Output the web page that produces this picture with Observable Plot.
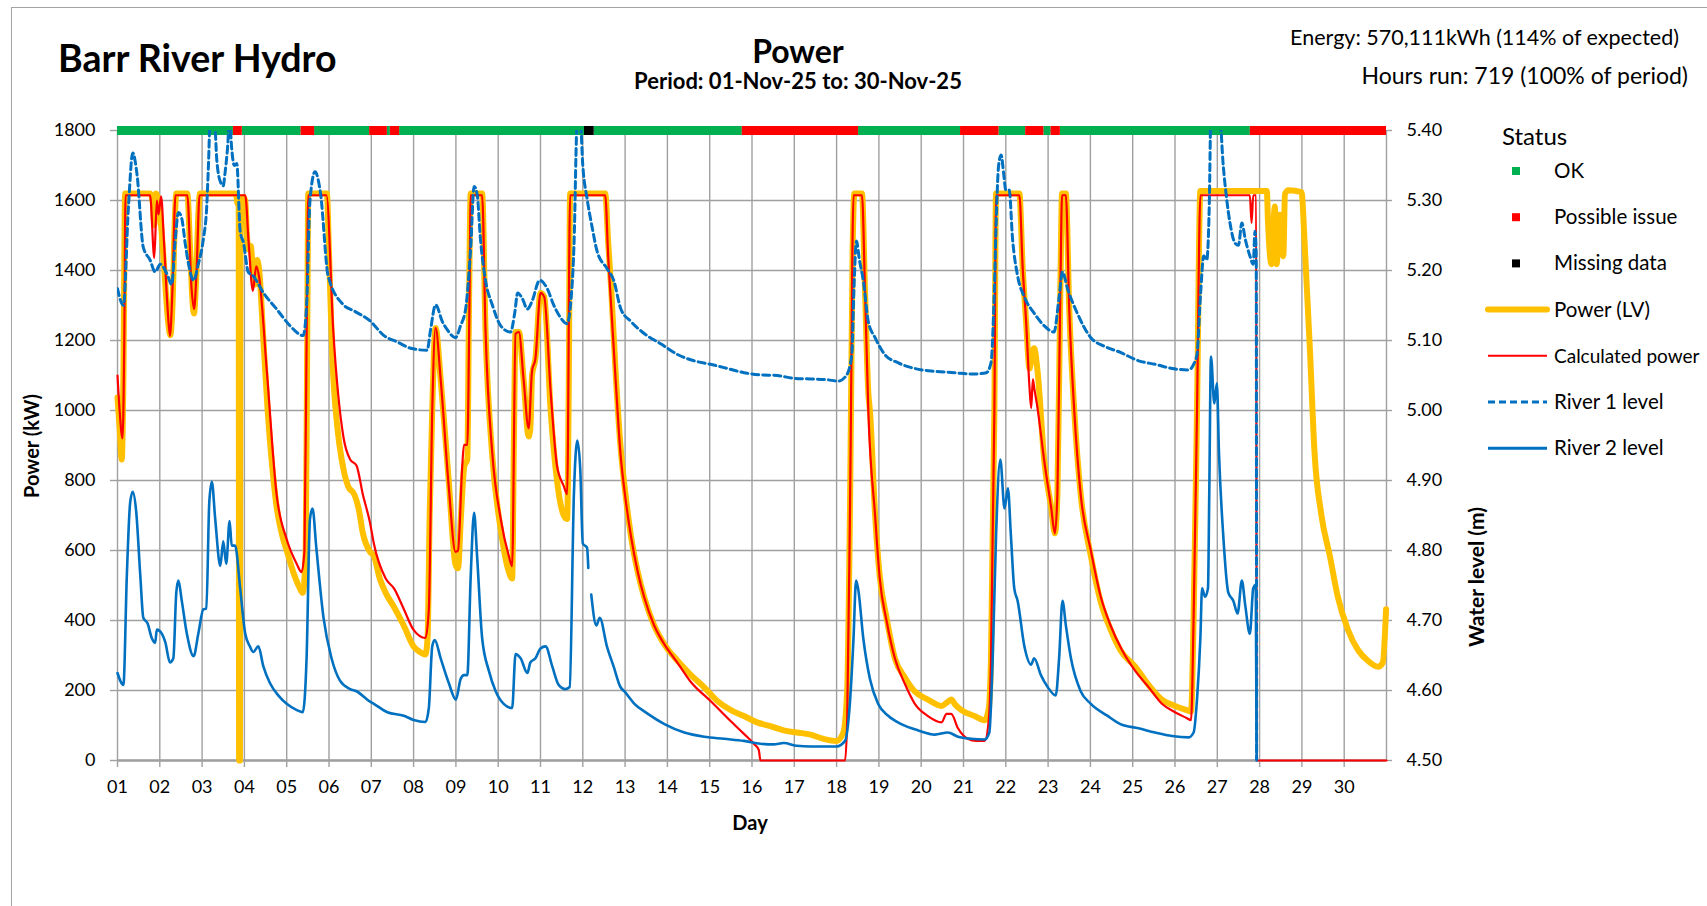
<!DOCTYPE html>
<html><head><meta charset="utf-8">
<script src="https://cdn.jsdelivr.net/npm/d3@7"></script>
<script src="https://cdn.jsdelivr.net/npm/@observablehq/plot@0.6"></script>
<style>
html,body{margin:0;padding:0;background:#fff;overflow:hidden;}
#wrap{position:relative;width:1707px;height:906px;overflow:hidden;font-family:Lato,sans-serif;}
#frame{position:absolute;left:11px;top:7px;width:1800px;height:1000px;border:1.5px solid #a3a3a3;}
#chart{position:absolute;left:0;top:0;}
#overlay{position:absolute;left:0;top:0;}
</style></head>
<body><div id="wrap"><div id="frame"></div><div id="chart"></div><svg id="overlay" width="1707" height="906"></svg></div>
<script>
// ---------- texts ----------
const titleText = "Barr River Hydro";
const chartTitle = "Power";
const periodText = "Period: 01-Nov-25 to: 30-Nov-25";
const energyText = "Energy: 570,111kWh (114% of expected)";
const hoursText = "Hours run: 719 (100% of period)";
const yLabel = "Power (kW)";
const y2Label = "Water level (m)";
const xLabel = "Day";
const legendTitle = "Status";
const legendLabels = ["OK","Possible issue","Missing data","Power (LV)","Calculated power","River 1 level","River 2 level"];

// ---------- ticks ----------
const dayLabels = ["01","02","03","04","05","06","07","08","09","10","11","12","13","14","15","16","17","18","19","20","21","22","23","24","25","26","27","28","29","30"];
const yTicks = [0,200,400,600,800,1000,1200,1400,1600,1800];
const yTickLabels = ["0","200","400","600","800","1000","1200","1400","1600","1800"];
const y2TickLabels = ["4.50","4.60","4.70","4.80","4.90","5.00","5.10","5.20","5.30","5.40"];

// ---------- status band (day offsets from 01 Nov 00:00) ----------
const statusStart = [0,2.74,2.95,4.34,4.66,5.96,6.38,6.45,6.67,11.04,11.27,14.77,17.52,19.93,20.84,21.47,21.9,22.07,22.29,26.78];
const statusEnd   = [2.74,2.95,4.34,4.66,5.96,6.38,6.45,6.67,11.04,11.27,14.77,17.52,19.93,20.84,21.47,21.9,22.07,22.29,26.78,30];
const statusType  = ["OK","Possible issue","OK","Possible issue","OK","Possible issue","OK","Possible issue","OK","Missing data","OK","Possible issue","OK","Possible issue","OK","Possible issue","OK","Possible issue","OK","Possible issue"];

// ---------- Power (LV), kW ----------
const powerDay = [0,0.05,0.1,0.14,0.18,0.77,0.83,0.87,0.91,0.97,1.05,1.12,1.2,1.25,1.3,1.36,1.39,1.65,1.72,1.78,1.81,1.85,1.92,1.95,2.8,2.84,2.865,2.875,2.895,2.905,2.97,3.02,3.06,3.1,3.15,3.2,3.25,3.3,3.35,3.45,3.55,3.65,3.76,3.9,4.0,4.15,4.3,4.38,4.45,4.49,4.51,4.95,5.0,5.08,5.2,5.3,5.45,5.6,5.7,5.8,5.97,6.06,6.2,6.34,6.54,6.77,7.0,7.15,7.28,7.33,7.38,7.44,7.52,7.64,7.83,7.99,8.05,8.12,8.2,8.27,8.31,8.35,8.62,8.7,8.86,9.06,9.25,9.33,9.37,9.41,9.49,9.6,9.72,9.76,9.8,9.88,10.0,10.09,10.24,10.39,10.55,10.63,10.67,10.7,11.53,11.6,11.67,11.78,11.89,12.0,12.14,12.3,12.45,12.69,12.96,13.24,13.55,13.87,14.18,14.5,14.81,15.12,15.44,15.75,16.06,16.38,16.69,17.0,17.16,17.25,17.32,17.38,17.42,17.6,17.67,17.75,17.79,17.91,18.02,18.18,18.38,18.61,18.85,19.16,19.48,19.6,19.71,19.8,19.95,20.26,20.5,20.6,20.65,20.73,20.77,21.32,21.4,21.48,21.56,21.62,21.67,21.75,21.91,22.07,22.16,22.22,22.29,22.33,22.42,22.5,22.62,22.77,23.01,23.24,23.48,23.71,24.06,24.38,24.69,25.0,25.28,25.38,25.44,25.52,25.6,27.17,27.2,27.28,27.36,27.4,27.48,27.56,27.6,27.68,27.99,28.07,28.19,28.3,28.46,28.66,28.85,29.09,29.33,29.56,29.8,29.91,29.99];
const powerKW = [1037,950,860,1100,1620,1620,1600,1530,1620,1600,1500,1380,1250,1215,1300,1560,1620,1620,1450,1300,1277,1350,1580,1620,1620,1590,1590,0,0,1580,1610,1600,1500,1460,1470,1400,1360,1430,1400,1200,1000,850,726,640,600,540,495,479,600,1300,1620,1620,1450,1150,949,860,784,760,720,650,596,585,520,479,438,385,326,310,303,350,700,1000,1236,1089,800,560,549,700,842,860,1300,1620,1620,1230,870,660,540,520,900,1224,1224,1089,926,950,1100,1148,1336,1324,1000,800,700,690,1100,1620,1620,1480,1350,1100,900,770,640,538,467,385,326,285,245,209,170,144,127,109,98,86,80,74,62,56,80,200,757,1465,1620,1620,1350,1050,996,702,526,408,291,238,197,174,156,165,174,160,144,127,115,150,291,996,1620,1620,1406,1254,1120,1160,1178,1113,855,725,649,761,1348,1620,1620,1289,996,761,585,455,373,315,268,215,174,156,144,140,408,996,1627,1627,1536,1418,1583,1418,1559,1441,1618,1629,1624,1465,1172,878,702,585,467,373,315,285,268,279,432];

// ---------- Calculated power, kW ----------
const calcDay = [0,0.05,0.12,0.16,0.19,0.77,0.87,0.93,0.97,1.03,1.1,1.18,1.24,1.3,1.37,1.65,1.75,1.81,1.87,1.94,3.02,3.1,3.2,3.28,3.35,3.53,3.76,4.0,4.24,4.35,4.42,4.47,4.51,4.94,5.1,5.34,5.5,5.65,5.8,5.97,6.06,6.34,6.54,6.77,7.0,7.28,7.36,7.44,7.52,7.64,7.83,7.99,8.05,8.15,8.19,8.27,8.32,8.35,8.62,8.7,8.86,9.06,9.25,9.33,9.41,9.49,9.6,9.72,9.8,9.88,10.0,10.09,10.24,10.39,10.55,10.63,10.7,11.53,11.6,11.67,11.78,11.89,12.0,12.14,12.3,12.45,12.69,12.96,13.24,13.55,14.02,14.5,14.81,15.05,15.16,15.2,17.2,17.25,17.32,17.4,17.6,17.67,17.75,17.91,18.02,18.18,18.38,18.61,18.85,19.16,19.48,19.6,19.71,19.87,20.1,20.3,20.5,20.6,20.65,20.73,20.77,21.32,21.4,21.48,21.56,21.6,21.64,21.67,21.75,21.91,22.07,22.16,22.22,22.29,22.33,22.42,22.5,22.62,22.77,23.01,23.24,23.48,23.75,24.06,24.38,24.69,25.0,25.28,25.38,25.44,25.52,25.6,26.77,26.81,26.85,26.92,26.93,30];
const calcKW = [1100,1000,920,1200,1615,1615,1436,1600,1560,1612,1480,1300,1213,1350,1615,1615,1350,1290,1400,1615,1615,1480,1342,1412,1380,1113,761,632,561,538,600,1200,1615,1615,1230,925,860,843,760,679,620,520,491,432,373,350,432,996,1236,1089,784,596,600,842,902,902,1300,1615,1615,1230,878,690,585,555,1219,1224,1089,949,1113,1148,1336,1324,1054,842,784,761,1615,1615,1440,1300,1080,878,757,640,538,467,385,326,279,225,170,112,76,47,30,0,0,115,757,1615,1615,1350,1000,700,520,400,291,220,162,127,109,133,133,92,62,56,56,120,291,996,1615,1615,1406,1254,1066,1007,1089,1066,1007,855,725,649,761,1348,1615,1615,1289,996,761,600,470,385,315,256,209,162,138,121,115,408,996,1615,1615,1536,1615,1615,0,0];

// ---------- River 1 level, m ----------
const river1Day = [0,0.14,0.26,0.36,0.46,0.61,0.77,0.89,1.01,1.17,1.28,1.36,1.44,1.52,1.6,1.68,1.8,1.91,2.03,2.11,2.15,2.19,2.28,2.35,2.43,2.5,2.54,2.6,2.65,2.7,2.76,2.82,2.9,2.98,3.09,3.21,3.45,3.76,4.08,4.39,4.47,4.55,4.67,4.8,4.98,5.34,5.6,5.97,6.3,6.61,6.93,7.32,7.4,7.52,7.68,7.8,7.99,8.11,8.23,8.35,8.43,8.5,8.58,8.7,8.86,9.06,9.29,9.39,9.46,9.57,9.69,9.8,9.98,10.16,10.31,10.47,10.63,10.7,10.79,10.87,10.94,11.0,11.1,11.22,11.34,11.57,11.73,11.9,12.14,12.45,12.85,13.24,13.63,14.02,14.42,14.81,15.2,15.6,15.98,16.38,16.77,17.04,17.24,17.36,17.41,17.47,17.54,17.63,17.75,17.91,18.14,18.46,18.85,19.32,19.79,20.18,20.54,20.65,20.73,20.77,20.83,20.89,20.95,21.0,21.08,21.16,21.28,21.44,21.67,21.91,22.14,22.26,22.34,22.46,22.69,23.01,23.32,23.71,24.14,24.53,24.93,25.32,25.44,25.52,25.6,25.68,25.75,25.81,25.85,26.05,26.14,26.22,26.3,26.42,26.5,26.58,26.66,26.77,26.85,26.89,26.92,26.93];
const river1M = [5.174,5.150,5.292,5.368,5.338,5.233,5.215,5.198,5.209,5.195,5.180,5.239,5.283,5.274,5.239,5.209,5.186,5.209,5.245,5.292,5.350,5.415,5.425,5.356,5.327,5.321,5.338,5.374,5.415,5.374,5.350,5.353,5.256,5.239,5.198,5.192,5.168,5.145,5.121,5.107,5.150,5.300,5.341,5.310,5.192,5.151,5.142,5.128,5.107,5.098,5.089,5.086,5.115,5.151,5.127,5.115,5.104,5.121,5.145,5.233,5.320,5.310,5.245,5.186,5.151,5.121,5.112,5.139,5.168,5.160,5.145,5.156,5.186,5.174,5.151,5.133,5.124,5.145,5.233,5.415,5.415,5.350,5.303,5.262,5.227,5.203,5.186,5.145,5.127,5.110,5.095,5.080,5.071,5.066,5.060,5.054,5.051,5.050,5.046,5.045,5.044,5.042,5.051,5.080,5.174,5.242,5.215,5.186,5.127,5.104,5.080,5.068,5.060,5.056,5.054,5.052,5.054,5.068,5.174,5.262,5.350,5.365,5.338,5.315,5.315,5.245,5.192,5.162,5.139,5.121,5.112,5.162,5.198,5.174,5.139,5.104,5.092,5.083,5.071,5.066,5.060,5.058,5.066,5.080,5.162,5.221,5.215,5.292,5.425,5.425,5.350,5.303,5.268,5.239,5.236,5.268,5.245,5.221,5.209,5.256,5.227,4.500];

// ---------- River 2 level, m (NaN = missing) ----------
const river2Day = [0,0.14,0.22,0.3,0.36,0.44,0.54,0.61,0.71,0.81,0.89,0.93,1.05,1.13,1.24,1.32,1.39,1.44,1.52,1.64,1.8,1.91,2.03,2.1,2.17,2.23,2.31,2.43,2.5,2.57,2.65,2.7,2.78,2.9,3.02,3.13,3.21,3.33,3.45,3.6,3.8,4.0,4.24,4.38,4.47,4.55,4.61,4.7,4.87,5.06,5.26,5.5,5.65,5.97,6.06,6.38,6.77,7.0,7.28,7.36,7.44,7.5,7.64,7.83,8.0,8.11,8.19,8.27,8.35,8.43,8.5,8.62,8.78,8.94,9.13,9.33,9.41,9.53,9.69,9.76,9.88,10.0,10.12,10.28,10.43,10.59,10.69,10.79,10.87,10.94,11.0,11.1,11.13,11.16,11.2,11.32,11.4,11.57,11.73,11.89,11.98,12.22,12.53,12.93,13.4,13.87,14.34,14.81,15.2,15.51,15.75,16.06,16.38,17.0,17.2,17.32,17.4,17.46,17.51,17.63,17.79,17.98,18.22,18.53,18.93,19.32,19.63,19.87,20.18,20.5,20.61,20.69,20.77,20.87,20.97,21.05,21.12,21.2,21.28,21.44,21.6,21.67,21.83,21.99,22.18,22.26,22.34,22.42,22.54,22.77,23.01,23.4,23.71,24.14,24.53,24.93,25.32,25.44,25.52,25.6,25.64,25.71,25.78,25.81,25.85,25.93,25.99,26.04,26.14,26.26,26.38,26.48,26.58,26.66,26.77,26.85,26.91,26.93];
const river2M = [4.625,4.608,4.763,4.869,4.884,4.857,4.763,4.704,4.696,4.675,4.668,4.687,4.681,4.669,4.640,4.646,4.740,4.757,4.728,4.681,4.649,4.681,4.716,4.717,4.869,4.898,4.845,4.778,4.813,4.781,4.842,4.807,4.807,4.746,4.681,4.663,4.655,4.663,4.634,4.611,4.593,4.581,4.572,4.569,4.646,4.845,4.860,4.804,4.704,4.646,4.614,4.602,4.599,4.584,4.581,4.569,4.564,4.558,4.555,4.575,4.663,4.672,4.646,4.611,4.587,4.616,4.622,4.622,4.763,4.854,4.793,4.675,4.628,4.599,4.581,4.575,4.652,4.646,4.625,4.640,4.646,4.660,4.663,4.634,4.608,4.602,4.605,4.881,4.957,4.916,4.810,4.804,4.775,NaN,4.737,4.693,4.704,4.663,4.634,4.605,4.599,4.581,4.567,4.552,4.540,4.534,4.531,4.528,4.524,4.523,4.525,4.521,4.520,4.520,4.528,4.587,4.675,4.757,4.745,4.675,4.616,4.581,4.564,4.552,4.543,4.537,4.540,4.534,4.531,4.530,4.540,4.646,4.822,4.930,4.860,4.889,4.822,4.746,4.728,4.663,4.637,4.646,4.622,4.605,4.593,4.646,4.728,4.693,4.646,4.599,4.581,4.564,4.552,4.546,4.540,4.535,4.533,4.540,4.587,4.675,4.746,4.734,4.746,4.881,5.077,5.010,5.039,4.939,4.822,4.740,4.728,4.710,4.757,4.722,4.681,4.746,4.751,4.500];

// ---------- colours ----------
const statusColors = {"OK":"#00B050","Possible issue":"#FF0000","Missing data":"#000000"};
const cPower = "#FFC000", cCalc = "#FF0000", cRiver = "#0070C0", cGrid = "#a0a0a0";

// ---------- build tables ----------
const power = powerDay.map((t,i)=>({t, v: powerKW[i]}));
const calc = calcDay.map((t,i)=>({t, v: calcKW[i]}));
const river1 = river1Day.map((t,i)=>({t, m: river1M[i]}));
const river2 = river2Day.map((t,i)=>({t, m: river2M[i]}));
const status = statusStart.map((a,i)=>({a, b: statusEnd[i], s: statusType[i]}));
const lvl = d => isNaN(d.m) ? NaN : (d.m - 4.5) * 2000; // right axis: 4.50 m ↔ 0 kW, 5.40 m ↔ 1800 kW

const W = 1707, H = 906;
const chart = Plot.plot({
  width: W, height: H,
  marginLeft: 117, marginRight: 321, marginTop: 130, marginBottom: 146,
  style: {fontFamily: "Lato, sans-serif", fontSize: "18px", color: "#000", background: "transparent"},
  x: {domain: [0, 30]},
  y: {domain: [0, 1800]},
  marks: [
    Plot.ruleX(d3.range(0, 31), {stroke: cGrid, strokeWidth: 1.4}),
    Plot.ruleY(yTicks, {stroke: cGrid, strokeWidth: 1.4}),
    Plot.ruleY([0], {stroke: cGrid, strokeWidth: 2.6}),
    Plot.axisY(yTicks, {anchor: "left", tickSize: 7, tickPadding: 15, stroke: cGrid, strokeWidth: 1.4, fontSize: 18, label: null,
      tickFormat: v => yTickLabels[yTicks.indexOf(v)]}),
    Plot.axisY(yTicks, {anchor: "right", tickSize: 5, tickPadding: 15, stroke: cGrid, strokeWidth: 1.4, fontSize: 18, label: null,
      tickFormat: v => y2TickLabels[yTicks.indexOf(v)]}),
    Plot.axisX(d3.range(0, 30), {anchor: "bottom", tickSize: 7, tickPadding: 13, stroke: cGrid, strokeWidth: 1.4, fontSize: 18, label: null,
      tickFormat: i => dayLabels[i]}),
    ...Object.keys(statusColors).map(k =>
      Plot.ruleY(status.filter(d => d.s === k), {y: () => 1800, x1: "a", x2: "b", stroke: statusColors[k], strokeWidth: 9})),
    Plot.line(power, {x: "t", y: "v", stroke: cPower, strokeWidth: 6, strokeLinejoin: "round", strokeLinecap: "round", curve: "monotone-x"}),
    Plot.line(calc, {x: "t", y: "v", stroke: cCalc, strokeWidth: 2.2, strokeLinejoin: "round", curve: "monotone-x"}),
    Plot.line(river1, {x: "t", y: lvl, stroke: cRiver, strokeWidth: 3, strokeDasharray: "7,4", curve: "monotone-x", clip: true}),
    Plot.line(river2, {x: "t", y: lvl, stroke: cRiver, strokeWidth: 2.6, strokeLinejoin: "round", curve: "monotone-x"})
  ]
});
document.getElementById("chart").appendChild(chart);

// ---------- titles, axis titles, legend ----------
const ov = d3.select("#overlay").style("font-family", "Lato, sans-serif");
const txt = (x, y, s, size, weight, anchor) =>
  ov.append("text").attr("x", x).attr("y", y).attr("font-size", size).attr("font-weight", weight || 400)
    .attr("text-anchor", anchor || "start").attr("fill", "#000").text(s);
txt(58, 72, titleText, 37.5, 700);
txt(798, 63, chartTitle, 32, 700, "middle");
txt(798, 89, periodText, 22, 700, "middle");
txt(1679, 45, energyText, 21.5, 400, "end");
txt(1688, 84, hoursText, 23, 400, "end");
txt(750, 830, xLabel, 20, 700, "middle");
ov.append("text").attr("transform", "translate(39,446) rotate(-90)").attr("text-anchor", "middle")
  .attr("font-size", 20).attr("font-weight", 700).text(yLabel);
ov.append("text").attr("transform", "translate(1484,577) rotate(-90)").attr("text-anchor", "middle")
  .attr("font-size", 21).attr("font-weight", 700).text(y2Label);

txt(1502, 145, legendTitle, 24, 400);
const legendSym = [
  {type: "sq", color: statusColors["OK"]},
  {type: "sq", color: statusColors["Possible issue"]},
  {type: "sq", color: statusColors["Missing data"]},
  {type: "ln", color: cPower, w: 6},
  {type: "ln", color: cCalc, w: 2},
  {type: "ln", color: cRiver, w: 3, dash: "7,4"},
  {type: "ln", color: cRiver, w: 3}
];
legendLabels.forEach((lab, i) => {
  const cy = 171 + i * 46.2;
  const s = legendSym[i];
  if (s.type === "sq") {
    ov.append("rect").attr("x", 1512).attr("y", cy - 4).attr("width", 8).attr("height", 8).attr("fill", s.color);
  } else {
    ov.append("line").attr("x1", 1488).attr("x2", 1547).attr("y1", cy).attr("y2", cy)
      .attr("stroke", s.color).attr("stroke-width", s.w).attr("stroke-dasharray", s.dash || null)
      .attr("stroke-linecap", s.w > 4 ? "round" : "butt");
  }
  const t = txt(1554, cy + 7, lab, 20.5, 400);
  // keep the longest label fully inside the page edge by shrinking its font
  const maxW = 1700 - 1554;
  const w = t.node().getComputedTextLength();
  if (w > maxW) t.attr("font-size", Math.floor(20.5 * maxW / w * 10) / 10);
});
</script>
</body></html>
